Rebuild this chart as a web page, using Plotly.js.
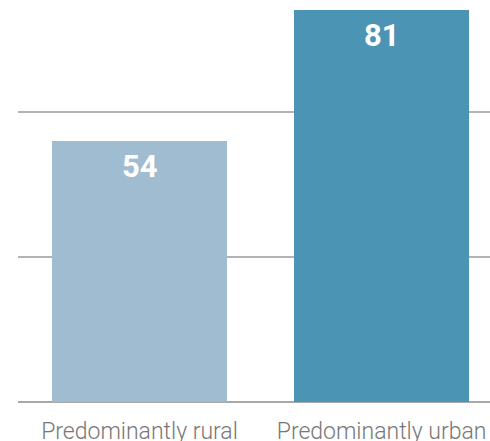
<!DOCTYPE html>
<html>
<head>
<meta charset="utf-8">
<script src="https://cdn.plot.ly/plotly-3.0.1.min.js"></script>
<style>html,body{margin:0;padding:0;background:#fff;}#chart{width:490px;height:441px;}</style>
</head>
<body>
<div id="chart"></div>
<script>
const categories = ["Predominantly rural", "Predominantly urban"];
const values = [54, 81];
const barColors = ["#A0BCD0", "#4B94B4"];

const trace = {
  type: "bar",
  x: categories,
  y: values,
  marker: {color: barColors, line: {width: 0}},
  width: 0.723,
  hoverinfo: "none"
};

const annotations = categories.map((c, i) => ({
  x: c, y: values[i], xref: "x", yref: "y",
  text: "<b>" + values[i] + "</b>",
  showarrow: false, yanchor: "top", yshift: -5,
  font: {family: "Roboto, sans-serif", size: 31, color: "#ffffff"}
}));

const layout = {
  width: 490, height: 441,
  margin: {l: 18, r: 0, t: 0, b: 39, pad: 0},
  paper_bgcolor: "#ffffff", plot_bgcolor: "#ffffff",
  showlegend: false,
  bargap: 0,
  xaxis: {
    type: "category",
    range: [-0.502, 1.448],
    showgrid: false, zeroline: false, showline: false, ticks: "",
    tickfont: {family: "Roboto, sans-serif", size: 23, color: "#777777", weight: 300},
    ticklabelstandoff: 13
  },
  yaxis: {
    range: [0, 83.17],
    tickvals: [0, 30, 60],
    showticklabels: false,
    showgrid: true, gridcolor: "#b3b3b3", gridwidth: 1.3,
    zeroline: true, zerolinecolor: "#a8a8a8", zerolinewidth: 1.5,
    showline: false, ticks: ""
  },
  annotations: annotations
};

Plotly.newPlot("chart", [trace], layout, {staticPlot: true, displayModeBar: false});
</script>
</body>
</html>
